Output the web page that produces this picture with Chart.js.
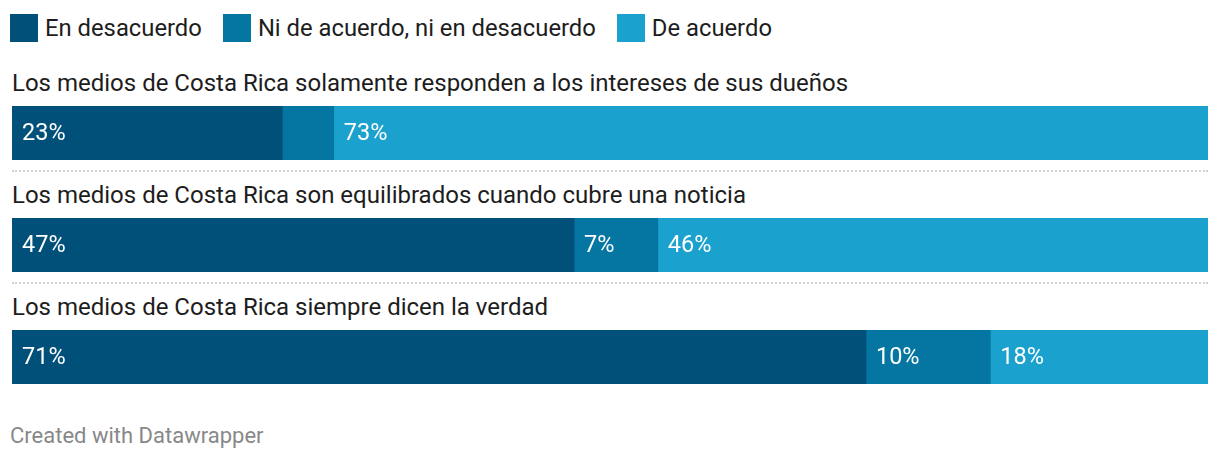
<!DOCTYPE html>
<html>
<head>
<meta charset="utf-8">
<script src="https://cdn.jsdelivr.net/npm/chart.js@4/dist/chart.umd.min.js"></script>
<style>
  body { margin: 0; background: #fff; font-family: Roboto, sans-serif; color: #1d1d1d; }
  #wrap { position: relative; width: 1220px; height: 462px; overflow: hidden; }
  .legend { position: absolute; left: 10px; top: 14px; height: 28px; display: flex; align-items: center; font-size: 23.8px; }
  .legend .item { display: flex; align-items: center; margin-right: 21px; }
  .legend .sw { width: 28px; height: 28px; margin-right: 7px; }
  .title { position: absolute; left: 12px; font-size: 24px; line-height: 28px; white-space: nowrap; }
  .bar { position: absolute; left: 12px; width: 1196px; height: 54px; }
  .sep { position: absolute; left: 12px; width: 1196px; border-top: 2px dotted #d2d2d2; }
  .footer { position: absolute; left: 10px; top: 423px; font-size: 22px; line-height: 26px; color: #888; }
</style>
</head>
<body>
<div id="wrap">
  <div class="legend" id="legend"></div>
  <div id="rows"></div>
  <div class="footer">Created with Datawrapper</div>
</div>
<script>
const categories = [
  "Los medios de Costa Rica solamente responden a los intereses de sus dueños",
  "Los medios de Costa Rica son equilibrados cuando cubre una noticia",
  "Los medios de Costa Rica siempre dicen la verdad"
];
const seriesNames = ["En desacuerdo", "Ni de acuerdo, ni en desacuerdo", "De acuerdo"];
const seriesColors = ["#005079", "#0476a1", "#1aa1cd"];
const enDesacuerdo = [22.6, 47.0, 71.4];
const niNi = [4.3, 7.0, 10.4];
const deAcuerdo = [73.1, 46.0, 18.2];
const allSeries = [enDesacuerdo, niNi, deAcuerdo];

// legend
const legend = document.getElementById("legend");
seriesNames.forEach((name, i) => {
  const item = document.createElement("div");
  item.className = "item";
  item.innerHTML = '<span class="sw" style="background:' + seriesColors[i] + '"></span><span>' + name + '</span>';
  legend.appendChild(item);
});

// values written inside the segments
const insideLabels = {
  id: "insideLabels",
  afterDatasetsDraw(chart) {
    const ctx = chart.ctx;
    ctx.save();
    ctx.font = "23.5px Roboto";
    ctx.fillStyle = "#fff";
    ctx.textBaseline = "alphabetic";
    ctx.textAlign = "left";
    chart.data.datasets.forEach((ds, di) => {
      chart.getDatasetMeta(di).data.forEach((el, j) => {
        const v = ds.data[j];
        if (v < 5) return;
        const left = Math.min(el.x, el.base);
        ctx.fillText(Math.round(v) + "%", left + 10, el.y + 7);
      });
    });
    ctx.restore();
  }
};

const rows = document.getElementById("rows");
const titleTops = [69, 181, 293];
const barTops = [106, 218, 330];
const sepTops = [170, 282];

categories.forEach((cat, i) => {
  const t = document.createElement("div");
  t.className = "title";
  t.style.top = titleTops[i] + "px";
  t.textContent = cat;
  rows.appendChild(t);

  const box = document.createElement("div");
  box.className = "bar";
  box.style.top = barTops[i] + "px";
  const canvas = document.createElement("canvas");
  box.appendChild(canvas);
  rows.appendChild(box);

  if (i < sepTops.length) {
    const s = document.createElement("div");
    s.className = "sep";
    s.style.top = sepTops[i] + "px";
    rows.appendChild(s);
  }

  new Chart(canvas, {
    type: "bar",
    data: {
      labels: [cat],
      datasets: seriesNames.map((name, k) => ({
        label: name,
        data: [allSeries[k][i]],
        backgroundColor: seriesColors[k],
        borderWidth: 0,
        barPercentage: 1,
        categoryPercentage: 1
      }))
    },
    options: {
      indexAxis: "y",
      responsive: true,
      maintainAspectRatio: false,
      animation: false,
      layout: { padding: 0 },
      plugins: { legend: { display: false }, tooltip: { enabled: false } },
      scales: {
        x: { stacked: true, min: 0, max: 100, display: false },
        y: { stacked: true, display: false }
      }
    },
    plugins: [insideLabels]
  });
});
</script>
</body>
</html>
